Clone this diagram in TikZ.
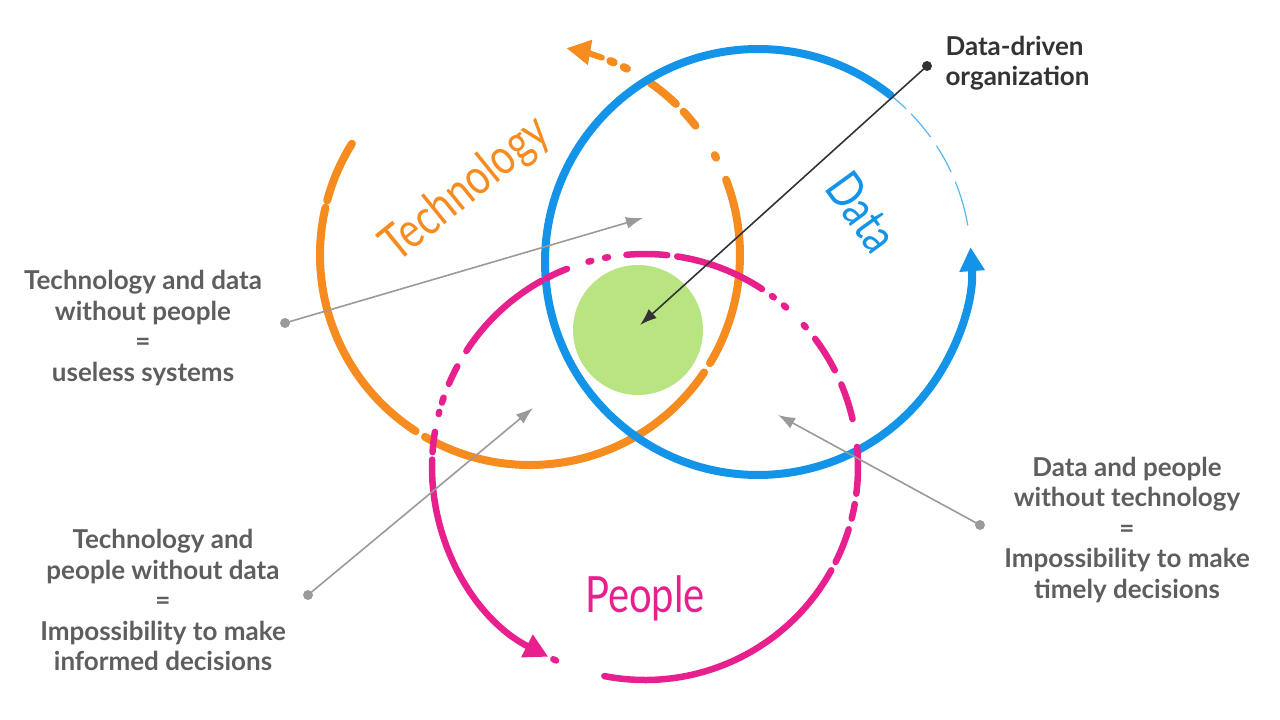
\documentclass[tikz,border=0pt]{standalone}
\usepackage{fontspec}
\setmainfont{Lato}
\usetikzlibrary{arrows.meta}

\definecolor{techorange}{HTML}{F68B1F}
\definecolor{datablue}{HTML}{1394E8}
\definecolor{peoplepink}{HTML}{E8208E}
\definecolor{coregreen}{HTML}{B9E482}
\definecolor{notegrey}{HTML}{5E5E5E}
\definecolor{linegrey}{HTML}{9A9A9A}
\definecolor{darkline}{HTML}{333333}

\begin{document}
\begin{tikzpicture}[x=1pt, y=1pt,
    tech/.style={techorange, line width=8, line cap=round},
    data/.style={datablue, line width=8, line cap=round},
    people/.style={peoplepink, line width=6.5, line cap=round},
    bigtip/.style={-{Triangle[length=24,width=24]}},
    note/.style={notegrey, align=center, font=\bfseries\fontsize{26}{30.5}\selectfont},
    dot/.style={circle, fill=#1, inner sep=0, minimum size=10},
    callout/.style={linegrey, line width=1.6, -{Latex[length=17,width=12]}},
    ringlabel/.style={font=\fontsize{50}{50}\selectfont, xscale=.8}]
\useasboundingbox (0,0) rectangle (1280,720);

% core
\fill[coregreen] (638,390) circle[radius=65];

% Technology ring
\foreach \a/\b in {148/165, 167/237, 240/326, 329/381, 27.6/28.4, 38/43, 46/55, 62.5/63.5, 66.5/67.5}
    \draw[tech] (530,465) ++(\a:210) arc[start angle=\a, end angle=\b, radius=210];
\draw[tech, line width=6, bigtip] (530,465) ++(70:210) arc[start angle=70, end angle=80, radius=210];

% Data ring
\draw[data, bigtip] (758,458) ++(51.5:213) arc[start angle=51.5, end angle=364, radius=213];
\foreach \a/\b in {10/22, 25/33, 36/44, 46/51}
    \draw[datablue!70, line width=1.2, line cap=round] (758,458) ++(\a:213) arc[start angle=\a, end angle=\b, radius=213];

% People ring
\foreach \a/\b in {259/331, 333.5/343, 346/350, 352.8/365.4, 13/22.8, 27/37, 41/41.8, 48.5/49.3, 52.8/53.4, 56.7/81.3, 84/95, 100/100.8, 104.6/105.4, 111.5/117.5, 119/147, 151.8/157, 161/162.4, 165/165.6, 170.5/176, 244.5/245.3}
    \draw[people] (645,253) ++(\a:213) arc[start angle=\a, end angle=\b, radius=213];
\draw[people, bigtip] (645,253) ++(178:213) arc[start angle=178, end angle=243, radius=213];

% ring names
\node[techorange, rotate=39, ringlabel] (techname) at (466,530) {Technology};
\node[datablue, rotate=-54, ringlabel] (dataname) at (862,508) {Data};
\node[peoplepink, ringlabel] (peoplename) at (645,122) {People};

% callouts
\node[note] (techdata) at (143,392) {Technology and data\\without people\\=\\useless systems};
\node[note] (techpeople) at (163,120) {Technology and\\people without data\\=\\Impossibility to make\\informed decisions};
\node[note] (datapeople) at (1127,190) {Data and people\\without technology\\=\\Impossibility to make\\timely decisions};
\node[note, darkline, align=left, anchor=west] (org) at (942,657) {Data-driven\\organization};

\node[dot=linegrey] (d1) at (285,397) {};
\node[dot=linegrey] (d2) at (308,125) {};
\node[dot=linegrey] (d3) at (980,195) {};
\node[dot=darkline] (d4) at (927,654) {};
\coordinate (t1) at (643,502);
\coordinate (t2) at (533,312);
\coordinate (t3) at (778,305);
\coordinate (t4) at (640,395);

\draw[callout] (d1.center) -- (t1);
\draw[callout] (d2.center) -- (t2);
\draw[callout] (d3.center) -- (t3);
\draw[callout, darkline] (d4.center) -- (t4);
\end{tikzpicture}
\end{document}
